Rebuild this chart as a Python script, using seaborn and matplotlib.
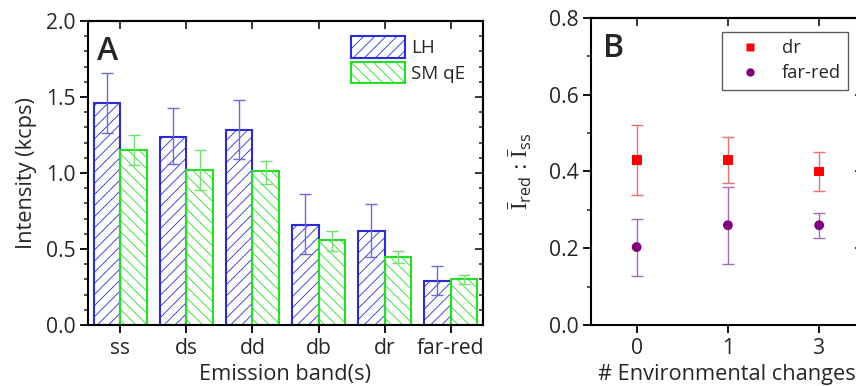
import numpy as np
import pandas as pd
import matplotlib
matplotlib.use("Agg")
import matplotlib.pyplot as plt
import seaborn as sns
from matplotlib.ticker import MultipleLocator

# ---------------- data ----------------
bands = ["ss", "ds", "dd", "db", "dr", "far-red"]
lh_vals = [1.46, 1.24, 1.28, 0.66, 0.62, 0.29]
lh_lo = [1.26, 1.06, 1.09, 0.47, 0.45, 0.20]
lh_hi = [1.66, 1.43, 1.48, 0.86, 0.795, 0.39]
sm_vals = [1.15, 1.02, 1.01, 0.56, 0.45, 0.30]
sm_lo = [1.05, 0.89, 0.93, 0.49, 0.41, 0.27]
sm_hi = [1.25, 1.15, 1.08, 0.62, 0.49, 0.33]
series_names = ["LH", "SM qE"]

env_changes = ["0", "1", "3"]
dr_vals = [0.43, 0.43, 0.40]
dr_lo = [0.34, 0.37, 0.35]
dr_hi = [0.52, 0.49, 0.45]
fr_vals = [0.203, 0.26, 0.26]
fr_lo = [0.128, 0.16, 0.228]
fr_hi = [0.275, 0.36, 0.292]
point_names = ["dr", "far-red"]

# ---------------- style ----------------
sns.set_theme(style="ticks")
plt.rcParams["font.family"] = ["Open Sans", "DejaVu Sans"]
plt.rcParams["hatch.linewidth"] = 0.6
plt.rcParams["mathtext.fontset"] = "custom"
plt.rcParams["mathtext.rm"] = "Liberation Serif"
plt.rcParams["mathtext.sf"] = "Open Sans"
plt.rcParams["mathtext.it"] = "Liberation Serif:italic"
FS = 15.2
LFS = 13.2

blue = "#2b2bdc"
green = "#22e022"
blue_err = "#6a6ae0"
green_err = "#70e070"
red = "#ff0000"
purple = "#800080"
red_err = "#f07070"
purple_err = "#a868b8"

fig = plt.figure(figsize=(8.56, 3.86), dpi=100)
axA = fig.add_axes([88 / 856, 1 - 325 / 386, 395 / 856, 304 / 386])
axB = fig.add_axes([591 / 856, 1 - 325 / 386, 272 / 856, 307 / 386])

# ---------------- panel A ----------------
dfA = pd.DataFrame({
    "band": bands * 2,
    "value": lh_vals + sm_vals,
    "series": [series_names[0]] * len(bands) + [series_names[1]] * len(bands),
})
sns.barplot(data=dfA, x="band", y="value", hue="series", order=bands,
            hue_order=series_names, palette=[blue, green], fill=False,
            errorbar=None, width=0.8, linewidth=1.5, ax=axA, legend=True)

hatches = {series_names[0]: "///", series_names[1]: "\\\\\\"}
bars = [p for p in axA.patches if p.get_height() > 0]
n = len(bands)
lh_bars = bars[:n]
sm_bars = bars[n:2 * n]
for p in lh_bars:
    p.set_hatch(hatches[series_names[0]])
    p.set_edgecolor(blue)
for p in sm_bars:
    p.set_hatch(hatches[series_names[1]])
    p.set_edgecolor(green)

for barset, vals, lo, hi, col in [(lh_bars, lh_vals, lh_lo, lh_hi, blue_err),
                                  (sm_bars, sm_vals, sm_lo, sm_hi, green_err)]:
    xs = [p.get_x() + p.get_width() / 2 for p in barset]
    v = np.array(vals)
    yerr = [v - np.array(lo), np.array(hi) - v]
    axA.errorbar(xs, v, yerr=yerr, fmt="none", ecolor=col, elinewidth=1.0,
                 capsize=4.5, capthick=1.0, zorder=3)

axA.set_ylim(0, 2.0)
axA.set_xlim(-0.49, 5.49)
axA.yaxis.set_major_locator(MultipleLocator(0.5))
axA.yaxis.set_minor_locator(MultipleLocator(0.1))
axA.yaxis.set_major_formatter(matplotlib.ticker.FormatStrFormatter("%.1f"))
axA.set_xlabel("Emission band(s)", fontsize=FS + 0.5, labelpad=4)
axA.set_ylabel("Intensity (kcps)", fontsize=FS + 0.5, labelpad=6)
axA.tick_params(axis="both", which="major", direction="out", length=6,
                width=1.3, labelsize=FS, color="black", pad=3)
axA.tick_params(axis="y", which="minor", direction="out", length=3, width=1.1)
for s in axA.spines.values():
    s.set_visible(True)
    s.set_linewidth(1.5)
    s.set_color("black")

topA = axA.secondary_xaxis("top")
topA.set_xticks(range(len(bands)))
topA.tick_params(direction="in", length=6, width=1.3, labeltop=False)
topA.spines["top"].set_linewidth(1.5)
rightA = axA.secondary_yaxis("right")
rightA.yaxis.set_major_locator(MultipleLocator(0.5))
rightA.yaxis.set_minor_locator(MultipleLocator(0.1))
rightA.tick_params(which="major", direction="in", length=6, width=1.3, labelright=False)
rightA.tick_params(which="minor", direction="in", length=3, width=1.1)
rightA.spines["right"].set_linewidth(1.5)

leg = axA.legend(loc="upper left", bbox_to_anchor=(0.666, 0.95), frameon=False,
                 fontsize=LFS + 0.3, handlelength=2.9, handleheight=1.4,
                 handletextpad=0.3, labelspacing=0.2, borderaxespad=0,
                 borderpad=0)
for h, name in zip(leg.legend_handles, series_names):
    h.set_hatch(hatches[name])
    h.set_linewidth(1.5)
axA.text(0.022, 0.955, "A", transform=axA.transAxes, fontsize=23,
         va="top", ha="left", fontweight="semibold")

# ---------------- panel B ----------------
dfB = pd.DataFrame({
    "changes": env_changes * 2,
    "ratio": dr_vals + fr_vals,
    "band": [point_names[0]] * 3 + [point_names[1]] * 3,
})
for vals, lo, hi, col in [(dr_vals, dr_lo, dr_hi, red_err),
                          (fr_vals, fr_lo, fr_hi, purple_err)]:
    v = np.array(vals)
    axB.errorbar(env_changes, v, yerr=[v - np.array(lo), np.array(hi) - v],
                 fmt="none", ecolor=col, elinewidth=1.0, capsize=4.5,
                 capthick=1.0, zorder=2)
sns.scatterplot(data=dfB, x="changes", y="ratio", hue="band", style="band",
                hue_order=point_names, style_order=point_names,
                markers={"dr": "s", "far-red": "o"},
                palette=[red, purple], s=50, edgecolor="none", ax=axB, zorder=3)

axB.set_xlim(-0.5, 2.48)
axB.set_ylim(0, 0.8)
axB.yaxis.set_major_locator(MultipleLocator(0.2))
axB.yaxis.set_minor_locator(MultipleLocator(0.1))
axB.yaxis.set_major_formatter(matplotlib.ticker.FormatStrFormatter("%.1f"))
axB.set_xlabel("# Environmental changes", fontsize=FS + 0.5, labelpad=4)
axB.set_ylabel(r"$\bar{\mathrm{I}}_{\mathsf{red}}\,:\,\bar{\mathrm{I}}_{\mathsf{ss}}$",
               fontsize=FS + 1.5, labelpad=10)
axB.tick_params(axis="both", which="major", direction="out", length=6,
                width=1.3, labelsize=FS, color="black", pad=3)
axB.tick_params(axis="y", which="minor", direction="out", length=3, width=1.1)
for s in axB.spines.values():
    s.set_visible(True)
    s.set_linewidth(1.5)
    s.set_color("black")
topB = axB.secondary_xaxis("top")
topB.set_xticks([0, 1, 2])
topB.tick_params(direction="in", length=6, width=1.3, labeltop=False)
topB.spines["top"].set_linewidth(1.5)
rightB = axB.secondary_yaxis("right")
rightB.yaxis.set_major_locator(MultipleLocator(0.2))
rightB.yaxis.set_minor_locator(MultipleLocator(0.1))
rightB.tick_params(which="major", direction="in", length=6, width=1.3, labelright=False)
rightB.tick_params(which="minor", direction="in", length=3, width=1.1)

legB = axB.legend(loc="upper right", bbox_to_anchor=(0.945, 0.955), frameon=True,
                  fontsize=LFS, handletextpad=0.55, handlelength=2.3,
                  borderaxespad=0, labelspacing=0.4, borderpad=0.4,
                  fancybox=False, markerscale=0.85)
legB.get_frame().set_edgecolor("#333333")
legB.get_frame().set_linewidth(1.0)
axB.text(0.045, 0.955, "B", transform=axB.transAxes, fontsize=23,
         va="top", ha="left", fontweight="semibold")

fig.savefig("out.png", dpi=100)
